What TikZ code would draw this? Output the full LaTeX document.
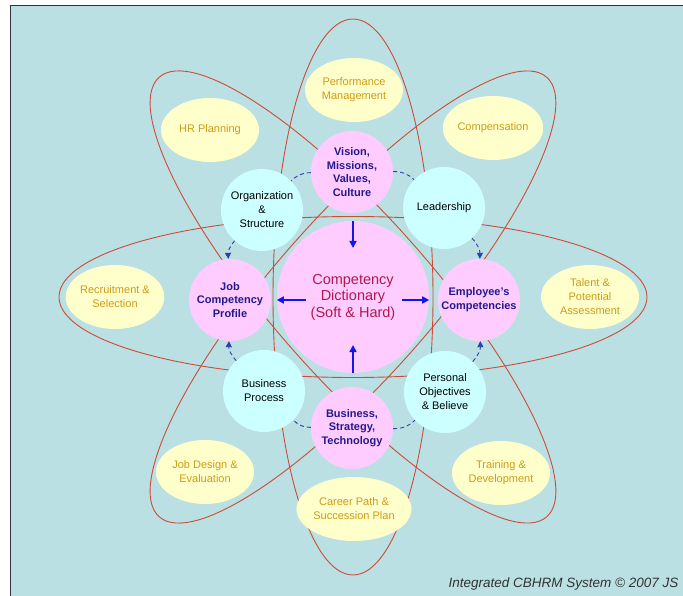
\documentclass[tikz,border=0pt]{standalone}
\usepackage{fontspec}
\setmainfont{Liberation Sans}
\usetikzlibrary{arrows.meta,calc,shapes.geometric}
\definecolor{bg}{RGB}{186,224,227}
\definecolor{ringred}{RGB}{205,75,55}
\definecolor{pinkfill}{RGB}{255,204,255}
\definecolor{cyanfill}{RGB}{204,255,255}
\definecolor{yelfill}{RGB}{255,255,204}
\definecolor{yeltext}{RGB}{205,155,25}
\definecolor{pinktext}{RGB}{35,25,140}
\definecolor{dicttext}{RGB}{175,25,75}
\definecolor{dashblue}{RGB}{50,60,170}
\definecolor{arrowblue}{RGB}{20,20,240}
\definecolor{framegray}{RGB}{50,50,50}
\begin{document}
\begin{tikzpicture}[x=1pt,y=-1pt,
  orbit/.style={draw=ringred,line width=0.9pt},
  pinknode/.style={circle,fill=pinkfill,minimum size=82pt,inner sep=0pt,align=center,text=pinktext,font=\fontsize{11}{13.7}\selectfont\bfseries},
  dictnode/.style={circle,fill=pinkfill,minimum size=152pt,inner sep=0pt,align=center,text=dicttext,font=\fontsize{14.5}{16.5}\selectfont},
  cyannode/.style={circle,fill=cyanfill,minimum size=82pt,inner sep=0pt,align=center,text=black,font=\fontsize{11}{14}\selectfont},
  yelnode/.style={ellipse,fill=yelfill,minimum width=98pt,minimum height=64pt,inner sep=0pt,align=center,text=yeltext,font=\fontsize{11}{14}\selectfont},
  ring/.style={draw=dashblue,dash pattern=on 4pt off 3pt,line width=0.9pt},
  ringarrow/.style={ring,-{Triangle[length=6pt,width=6pt]}},
  bluearrow/.style={draw=arrowblue,line width=1.6pt,-{Triangle[length=7pt,width=7pt]}}
]
\useasboundingbox (0,0) rectangle (683,596);
\fill[white] (0,0) rectangle (683,596);
\fill[bg] (11,6) rectangle (683,596);
\draw[framegray,line width=1.5pt] (10.5,596) -- (10.5,5.5) -- (683,5.5);

\coordinate (c) at (353,297);
\draw[orbit] (c) ellipse [x radius=80, y radius=278];
\draw[orbit] (c) ellipse [x radius=294, y radius=80.5];
\draw[orbit, rotate around={48.6:(c)}] (c) ellipse [x radius=293, y radius=80];
\draw[orbit, rotate around={-48.6:(c)}] (c) ellipse [x radius=293, y radius=80];

% yellow ellipses
\node[yelnode] (perf) at (354,90) {Performance\\Management};
\node[yelnode] (hrp) at (210,130) {HR Planning};
\node[yelnode] (comp) at (493,128) {Compensation};
\node[yelnode] (recr) at (115,297) {Recruitment \&\\Selection};
\node[yelnode] (tal) at (590,297) {Talent \&\\Potential\\Assessment};
\node[yelnode] (jobd) at (205,472) {Job Design \&\\Evaluation};
\node[yelnode] (career) at (354,509) {Career Path \&\\Succession Plan};
\node[yelnode] (train) at (501,473) {Training \&\\Development};

% circles
\node[dictnode] (dict) at (353,297) {Competency\\Dictionary\\(Soft \& Hard)};
\node[pinknode] (vision) at (352,172) {Vision,\\Missions,\\Values,\\Culture};
\node[pinknode] (bst) at (352,428) {Business,\\Strategy,\\Technology};
\node[pinknode] (jcp) at (230,300) {Job\\Competency\\Profile};
\node[pinknode] (emp) at (479,300) {Employee's\\Competencies};
\node[cyannode] (org) at (262,210) {Organization\\\&\\Structure};
\node[cyannode] (lead) at (444,208) {Leadership};
\node[cyannode] (bp) at (264,391) {Business\\Process};
\node[cyannode] (po) at (445,392) {Personal\\Objectives\\\& Believe};

% dashed ring
\draw[ring] (vision) to[bend right=22] (org);
\draw[ring] (vision) to[bend left=22] (lead);
\draw[ringarrow] (org) to[bend right=22] (jcp);
\draw[ringarrow] (lead) to[bend left=22] (emp);
\draw[ringarrow] (bp) to[bend left=22] (jcp);
\draw[ringarrow] (po) to[bend right=22] (emp);
\draw[ring] (bst) to[bend left=22] (bp);
\draw[ring] (bst) to[bend right=22] (po);

% solid blue arrows
\coordinate (dtopin) at (353,248);
\coordinate (dbotin) at (353,345);
\coordinate (dlin) at (306,300);
\coordinate (drin) at (402,300);
\draw[bluearrow] (dict.north) -- (dtopin);
\draw[bluearrow] (dict.south) -- (dbotin);
\draw[bluearrow] (dlin) -- (dict.west |- dlin);
\draw[bluearrow] (drin) -- (dict.east |- drin);

\node[anchor=base east,font=\fontsize{13.5}{16}\selectfont\itshape,text=black!80] (foot) at (682,587) {Integrated CBHRM System © 2007 JS};
\end{tikzpicture}
\end{document}
